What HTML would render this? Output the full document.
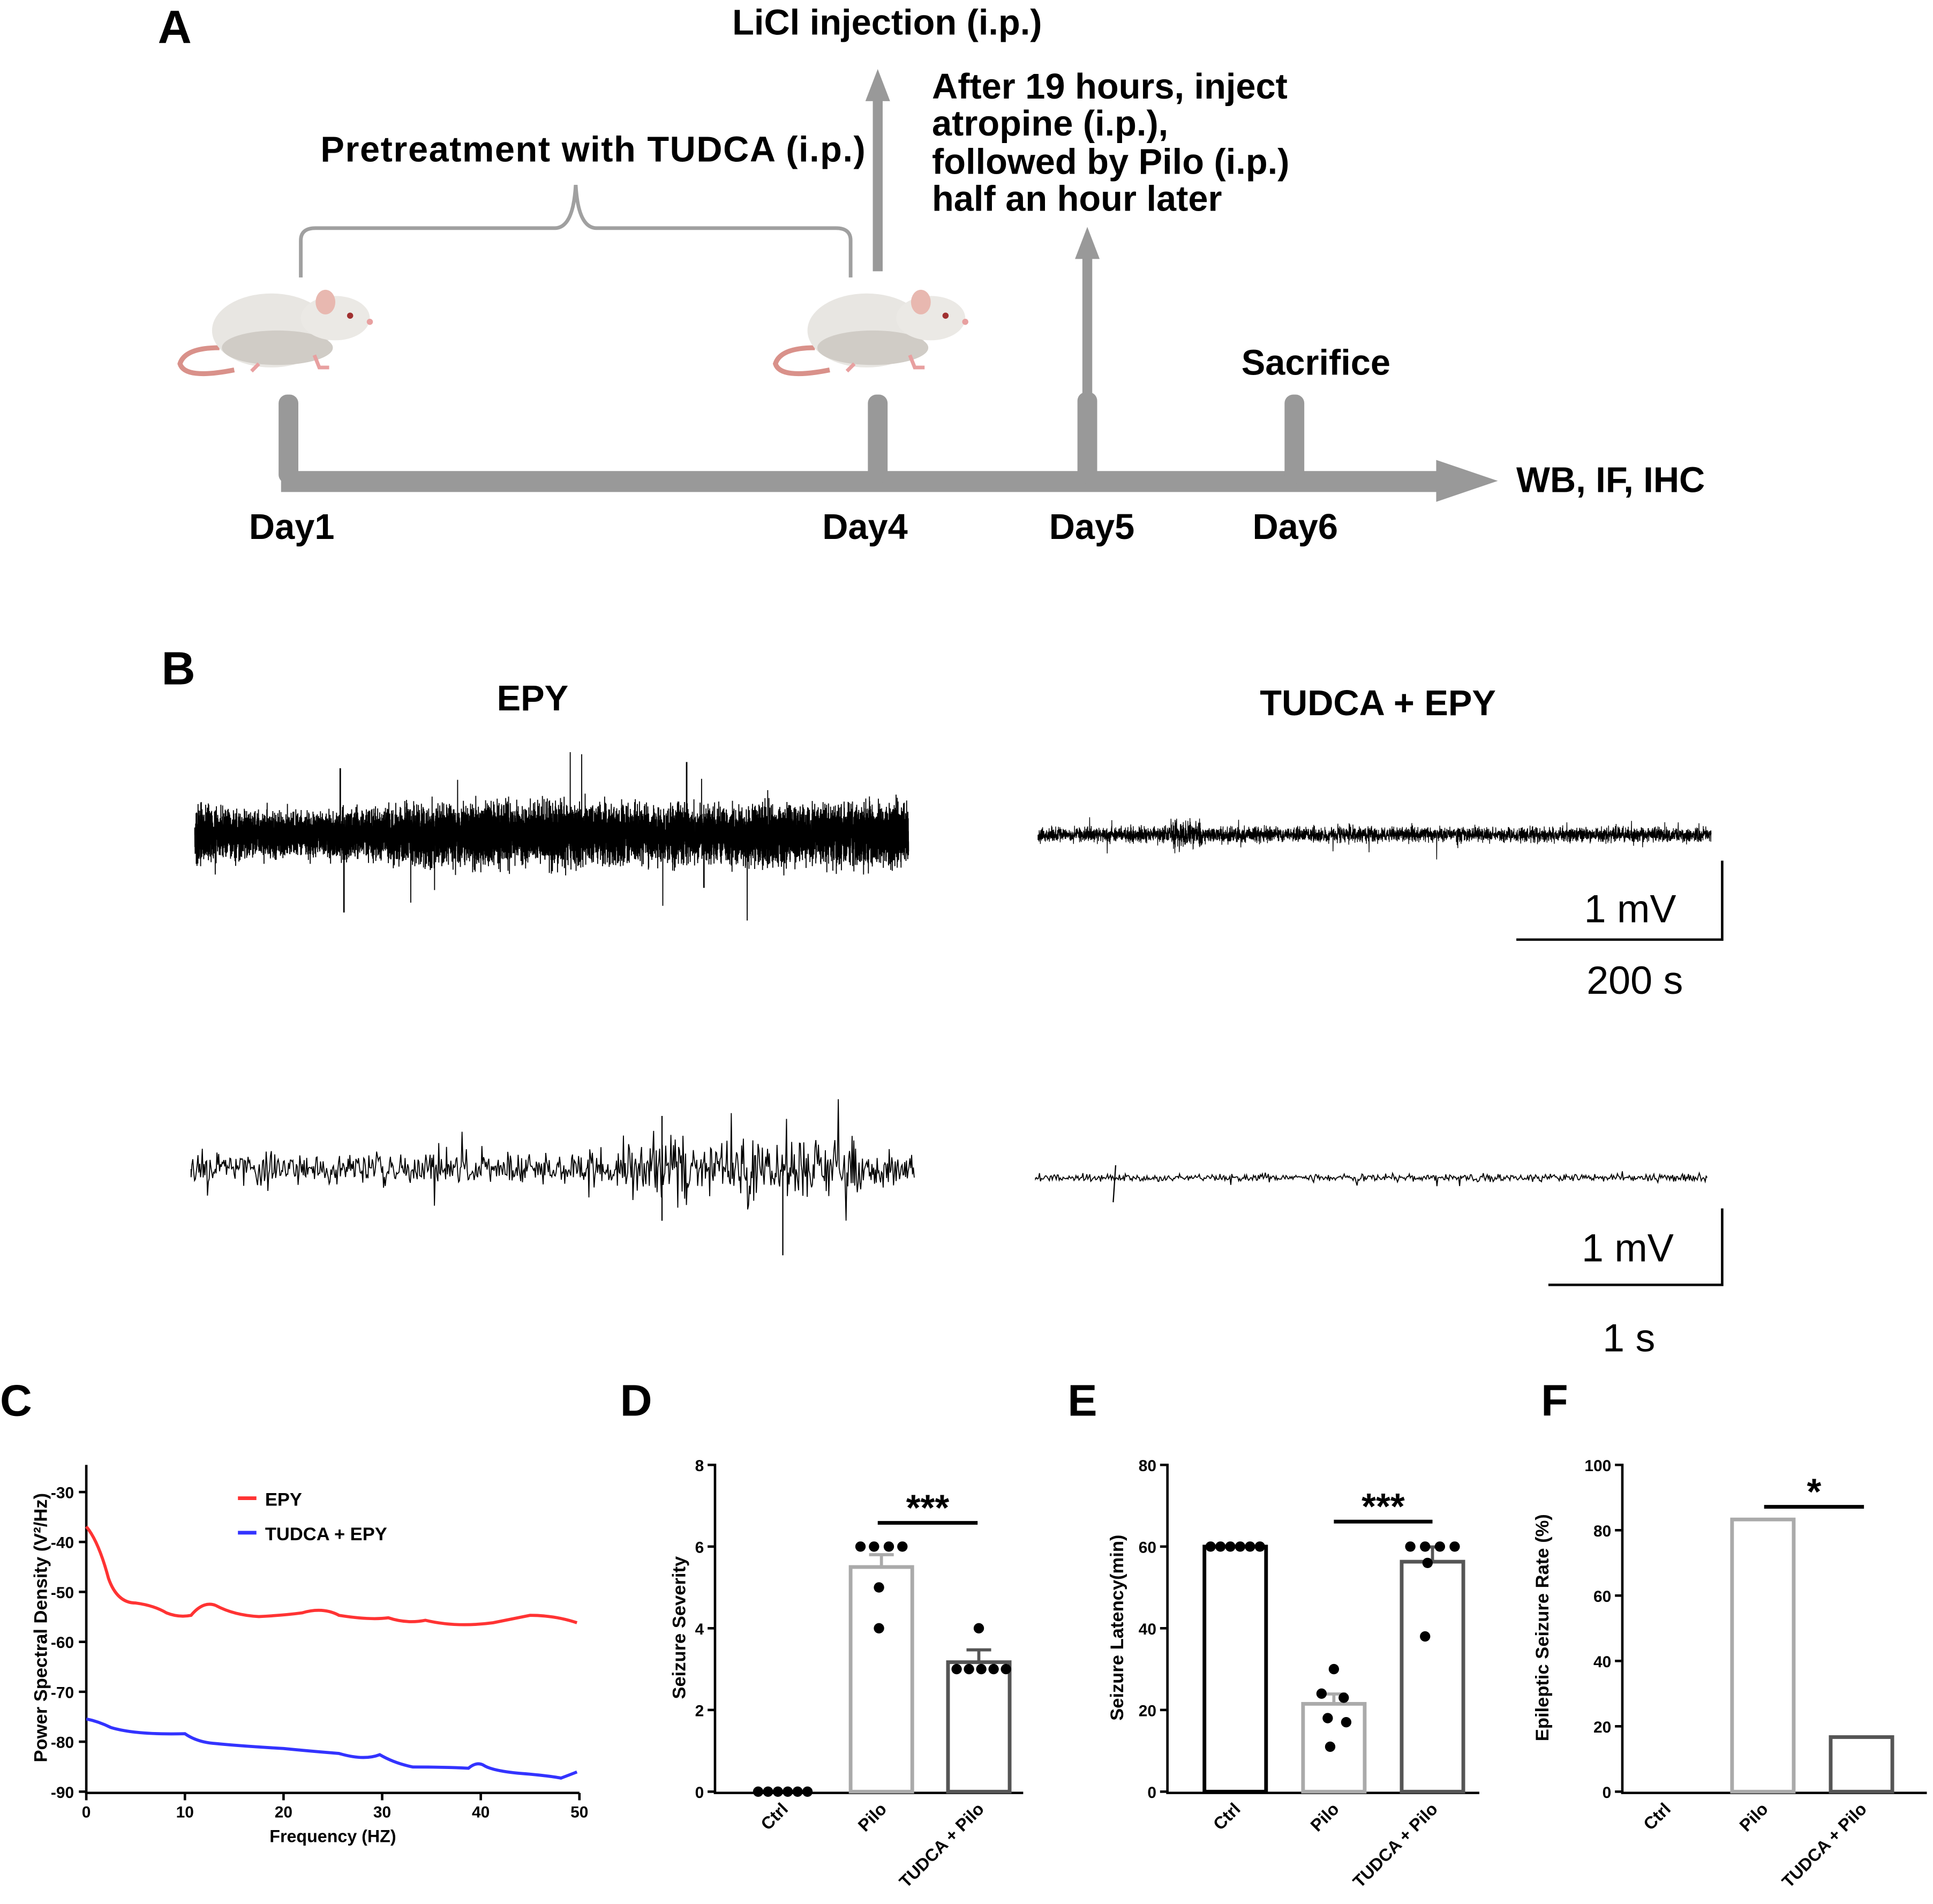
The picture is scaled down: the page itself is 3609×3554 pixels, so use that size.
<!DOCTYPE html>
<html><head><meta charset="utf-8"><style>
html,body{margin:0;padding:0;background:#fff}
svg{display:block}
text{font-family:"Liberation Sans",Arial,sans-serif}
</style></head><body>
<svg id="s" width="3609" height="3554" viewBox="0 0 1568 1544.1" xmlns="http://www.w3.org/2000/svg">
<rect width="1568" height="1545" fill="#fff"/>
<text x="128" y="35" font-weight="bold" font-size="38">A</text>
<g fill="#999" stroke="none">
<rect x="228" y="382" width="942" height="17"/>
<polygon points="1165,373 1215,390 1165,407"/>
<rect x="226" y="320" width="16" height="72" rx="7"/>
<rect x="704" y="320" width="16" height="72" rx="7"/>
<rect x="874" y="318" width="16" height="74" rx="7"/>
<rect x="1042" y="320" width="16" height="72" rx="7"/>
<rect x="708" y="78" width="8" height="142"/>
<polygon points="702,82 712,56 722,82"/>
<rect x="878" y="206" width="8" height="114"/>
<polygon points="872,210 882,184 892,210"/>
</g>
<path d="M244,225 L244,195 Q244,185 256,185 L450,185 Q465,185 467,150 Q469,185 484,185 L678,185 Q690,185 690,195 L690,225" fill="none" stroke="#a0a0a0" stroke-width="3"/>
<g font-size="29" font-weight="bold">
<text x="202" y="437">Day1</text><text x="667" y="437">Day4</text>
<text x="851" y="437">Day5</text><text x="1016" y="437">Day6</text>
<text x="1230" y="399">WB, IF, IHC</text>
<text x="1007" y="304">Sacrifice</text>
<text x="594" y="28">LiCl injection (i.p.)</text>
<text x="260" y="131" textLength="442">Pretreatment with TUDCA (i.p.)</text>
<text x="756" y="80">After 19 hours, inject</text>
<text x="756" y="110">atropine (i.p.),</text>
<text x="756" y="141">followed by Pilo (i.p.)</text>
<text x="756" y="171">half an hour later</text>
</g>
<g id="mouse">
<path d="M178,282 Q150,282 146,295 Q150,308 190,300" fill="none" stroke="#d9918a" stroke-width="4"/>
<ellipse cx="220" cy="268" rx="48" ry="30" fill="#e8e6e2"/>
<ellipse cx="225" cy="282" rx="45" ry="14" fill="#d0ccc6"/>
<ellipse cx="272" cy="258" rx="28" ry="18" fill="#ebe9e5"/>
<ellipse cx="264" cy="245" rx="8" ry="10" fill="#e8b8b0"/>
<circle cx="284" cy="256" r="2.5" fill="#a03030"/>
<circle cx="300" cy="261" r="2.5" fill="#e8a0a0"/>
<path d="M210,295 l-6,6 M255,288 l4,10 l8,0" stroke="#e8a0a0" stroke-width="3" fill="none"/>
</g>
<use href="#mouse" transform="translate(483,0)"/>
<text x="131" y="555" font-size="38" font-weight="bold">B</text>
<text x="403" y="576" font-size="29" font-weight="bold">EPY</text>
<text x="1022" y="580" font-size="29" font-weight="bold">TUDCA + EPY</text>
<g id="traces" fill="none" stroke="#000"></g>
<g stroke="#000" stroke-width="2" fill="none">
<path d="M1397,698 L1397,762 L1230,762"/>
<path d="M1397,980 L1397,1042 L1256,1042"/>
</g>
<text x="1285" y="748" font-size="32">1 mV</text>
<text x="1287" y="806" font-size="32">200 s</text>
<text x="1283" y="1023" font-size="32">1 mV</text>
<text x="1300" y="1096" font-size="32">1 s</text>
<text x="0" y="1148" font-size="36" font-weight="bold">C</text>
<g stroke="#000" stroke-width="2" fill="none">
<path d="M70,1188 L70,1454 L470,1454"/>
<path id="cyt" d=""/>
</g>
<g id="cl" font-size="13" font-weight="bold"></g>
<text x="270" y="1494" font-size="14" font-weight="bold" text-anchor="middle">Frequency (HZ)</text>
<text transform="translate(38,1320) rotate(-90)" font-size="15" font-weight="bold" text-anchor="middle">Power Spectral Density (V²/Hz)</text>
<path d="M70,1238 Q80,1250 88,1280 Q95,1300 110,1300 Q125,1302 135,1308 Q145,1312 155,1310 Q165,1298 175,1302 Q190,1310 210,1311 Q230,1310 245,1308 Q262,1303 275,1310 Q300,1314 315,1312 Q330,1317 345,1314 Q370,1320 400,1316 Q420,1312 430,1310 Q450,1310 468,1316" fill="none" stroke="#f33" stroke-width="2.5"/>
<path d="M70,1394 Q80,1396 90,1401 Q110,1407 150,1406 Q160,1413 175,1414 Q195,1416 230,1418 Q250,1420 275,1422 Q295,1428 308,1423 Q320,1430 335,1433 Q360,1433 380,1434 Q387,1428 393,1432 Q400,1436 420,1438 Q445,1440 455,1442 Q463,1439 468,1437" fill="none" stroke="#33f" stroke-width="2.5"/>
<line x1="193" y1="1215" x2="208" y2="1215" stroke="#f33" stroke-width="3"/>
<line x1="193" y1="1243" x2="208" y2="1243" stroke="#33f" stroke-width="3"/>
<text x="215" y="1221" font-size="15" font-weight="bold">EPY</text>
<text x="215" y="1249" font-size="15" font-weight="bold">TUDCA + EPY</text>
<g id="bars"></g>
</svg>
<script>
var NS="http://www.w3.org/2000/svg",s=document.getElementById('s');
function el(t,a,p,txt){var e=document.createElementNS(NS,t);for(var k in a)e.setAttribute(k,a[k]);if(txt!=null)e.textContent=txt;(p||s).appendChild(e);return e;}
var seed=7;function r(){seed=(seed*16807)%2147483647;return seed/2147483647;}
function g(){return (r()+r()+r()-1.5)*1.2;}
var tr=document.getElementById('traces');
function trace(x0,x1,cy,amp,step,env,spike,sw){var d="M"+x0+","+cy;for(var x=x0;x<=x1;x+=step){var a=amp*env(x);var v=g()*a;if(r()<spike)v*=2.6;d+="L"+x.toFixed(2)+","+(cy+v).toFixed(1);}el('path',{d:d,'stroke-width':sw},tr);}
trace(158,737,677,19,0.05,function(x){return 0.9+0.15*Math.sin(x/50)+(x>440&&x<640?0.15:0)},0.004,0.8);
el('path',{d:"M279,677 L279,740 M571,660 L571,720 M557,618 L557,660 M276,623 L276,680",'stroke-width':1.2},tr);
trace(842,1388,677,5,0.12,function(x){return (x>950&&x<975)?2:1},0.01,0.6);
trace(155,742,948,11,0.7,function(x){return (x>500&&x<700)?1.8:1},0.03,0.8);
el('path',{d:"M635,948 L635,1018 M537,905 L537,990",'stroke-width':1},tr);
trace(840,1385,955,2.5,0.8,function(x){return 1},0.02,0.8);
el('path',{d:"M905,945 L903,975",'stroke-width':1},tr);
var cl=document.getElementById('cl'),cyt="";
for(var i=0;i<7;i++){var y=1210+i*40.5;cyt+="M64,"+y+"L70,"+y;el('text',{x:60,y:y+5,'text-anchor':'end'},cl,String(-30-10*i));}
for(var i=0;i<=5;i++){var x=70+i*80;cyt+="M"+x+",1454L"+x+",1460";el('text',{x:x,y:1474,'text-anchor':'middle'},cl,String(i*10));}
document.getElementById('cyt').setAttribute('d',cyt);
var B=document.getElementById('bars');
function panel(L,lx,ax,x1,max,step,ylab,bars,sig,lo){
 el('text',{x:lx,y:1148,'font-size':36,'font-weight':'bold'},B,L);
 var p="M"+ax+",1187L"+ax+",1454L"+x1+",1454";
 for(var v=0;v<=max;v+=step){var y=1453-v/max*265;p+="M"+(ax-6)+","+y+"L"+ax+","+y;el('text',{x:ax-9,y:y+5,'font-size':13,'font-weight':'bold','text-anchor':'end'},B,String(v));}
 el('path',{d:p,stroke:'#000','stroke-width':2,fill:'none'},B);
 el('text',{transform:"translate("+(ax-lo)+",1320) rotate(-90)",'font-size':15,'font-weight':'bold','text-anchor':'middle'},B,ylab);
 var names=["Ctrl","Pilo","TUDCA + Pilo"],cols=["#000","#aaa","#555"];
 bars.forEach(function(b,i){var y=1453-b.v/max*265;
  if(b.v>0)el('rect',{x:b.x,y:y,width:50,height:1453-y,fill:'#fff',stroke:cols[i],'stroke-width':3},B);
  if(b.e)el('path',{d:"M"+(b.x+25)+","+y+"L"+(b.x+25)+","+(y-b.e)+"M"+(b.x+15)+","+(y-b.e)+"L"+(b.x+35)+","+(y-b.e),stroke:cols[i],'stroke-width':2.5},B);
  (b.d||[]).forEach(function(d){el('circle',{cx:b.x+25+d[0],cy:1453-d[1]/max*265,r:4.2,fill:'#000'},B);});
  el('text',{transform:"translate("+(b.x+30)+",1468) rotate(-45)",'font-size':14,'font-weight':'bold','text-anchor':'end'},B,names[i]);
 });
 el('line',{x1:sig[0],x2:sig[1],y1:sig[2],y2:sig[2],stroke:'#000','stroke-width':3},B);
 el('text',{x:(sig[0]+sig[1])/2,y:sig[2]-2,'font-size':30,'font-weight':'bold','text-anchor':'middle'},B,sig[3]);
}
function six(v){return [[-20,v],[-12,v],[-4,v],[4,v],[12,v],[20,v]];}
panel("D",503,580,830,8,2,"Seizure Severity",[
 {x:610,v:0,d:six(0)},
 {x:690,v:5.5,e:10,d:[[-17,6],[-6,6],[6,6],[17,6],[-2,5],[-2,4]]},
 {x:769,v:3.17,e:10,d:[[-18,3],[-8,3],[2,3],[12,3],[22,3],[0,4]]}],[712,793,1235,"***"],24);
panel("E",866,947,1200,80,20,"Seizure Latency(min)",[
 {x:977,v:60,d:six(60)},
 {x:1057,v:21.5,e:8,d:[[0,30],[-10,24],[8,23],[-5,18],[10,17],[-3,11]]},
 {x:1137,v:56.3,e:12,d:[[-18,60],[-6,60],[6,60],[18,60],[-4,56],[-6,38]]}],[1082,1162,1234,"***"],36);
panel("F",1250,1316,1563,100,20,"Epileptic Seizure Rate (%)",[
 {x:1326,v:0},{x:1405,v:83.3},{x:1485,v:16.7}],[1431,1512,1222,"*"],60);
</script>
</body></html>
